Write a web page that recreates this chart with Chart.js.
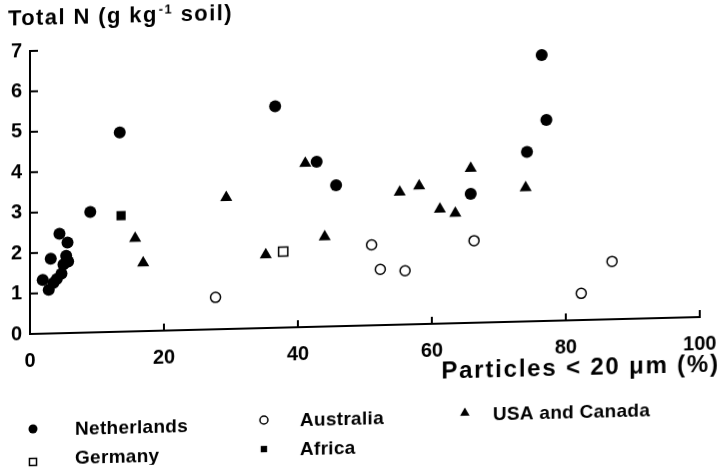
<!DOCTYPE html>
<html><head><meta charset="utf-8">
<script src="https://cdn.jsdelivr.net/npm/chart.js@4.4.1/dist/chart.umd.min.js"></script>
<style>
html,body{margin:0;padding:0;background:#fff;overflow:hidden}
#wrap{width:721px;height:468px;}
canvas{display:block;transform:skewY(-1.45deg);transform-origin:30px 0;}
</style></head><body>
<div id="wrap"><canvas id="c" width="721" height="468"></canvas></div>
<script>
// ---- data ----
const netherlandsX=[4.4,5.6,3.1,5.4,5.7,5.0,4.7,4.0,3.5,1.9,2.8,9.0,13.4,36.6,42.8,45.7,65.8,74.2,76.4,77.1];
const netherlandsY=[2.46,2.24,1.85,1.91,1.77,1.70,1.47,1.34,1.25,1.33,1.08,2.98,4.93,5.48,4.08,3.49,3.19,4.19,6.58,4.97];
const usaX=[41.1,29.3,15.7,16.9,35.2,44.0,55.2,58.1,65.8,61.2,63.5,74.0];
const usaY=[4.05,3.25,2.30,1.69,1.81,2.22,3.28,3.42,3.82,2.83,2.72,3.31];
const australiaX=[27.7,51.0,52.3,56.0,66.3,86.9,82.3];
const australiaY=[0.79,1.99,1.38,1.33,2.03,1.43,0.66];
const germanyX=[37.8];
const germanyY=[1.88];
const africaX=[13.6];
const africaY=[2.87];
const xTicks=[0,20,40,60,80,100];
const yTicks=[0,1,2,3,4,5,6,7];
const seriesNames=['Netherlands','Germany','Australia','Africa','USA and Canada'];
const yTitle=['Total N (g kg','-1',' soil)'];
const xTitle='Particles < 20 \u03bcm (%)';

const FONT='"Liberation Sans", Arial, sans-serif';
const pts=(xs,ys)=>xs.map((x,i)=>({x:x,y:ys[i]}));

const inwardTicks={id:'inwardTicks',afterDatasetsDraw(chart){
  const {ctx,scales:{x,y},chartArea:a}=chart;
  ctx.save();ctx.strokeStyle='#000';ctx.lineWidth=2;
  yTicks.forEach(v=>{if(v===0)return;const py=y.getPixelForValue(v);
    ctx.beginPath();ctx.moveTo(a.left,py);ctx.lineTo(a.left+8,py);ctx.stroke();});
  xTicks.forEach(v=>{if(v===0)return;const px=x.getPixelForValue(v);
    ctx.beginPath();ctx.moveTo(px,a.bottom);ctx.lineTo(px,a.bottom-7);ctx.stroke();});
  ctx.restore();}};

const texts={id:'texts',afterDraw(chart){
  const ctx=chart.ctx;const a=chart.chartArea;
  ctx.save();ctx.fillStyle='#000';ctx.textBaseline='middle';
  // y title with superscript
  let fx=8;const ty=19;
  ctx.letterSpacing='1.4px';
  ctx.font='bold 22px '+FONT;ctx.textAlign='left';
  ctx.fillText(yTitle[0],fx,ty);fx+=ctx.measureText(yTitle[0]).width+1;
  ctx.font='bold 13px '+FONT;ctx.fillText(yTitle[1],fx,ty-6);fx+=ctx.measureText(yTitle[1]).width;
  ctx.font='bold 22px '+FONT;ctx.fillText(yTitle[2],fx,ty);
  // x title
  ctx.letterSpacing='1.8px';
  ctx.font='bold 24px '+FONT;ctx.textAlign='right';
  ctx.fillText(xTitle,720,a.bottom+48);
  // legend
  ctx.letterSpacing='0.3px';
  const ds=chart.data.datasets;
  const pos={'Netherlands':[33,75,429,431],'Germany':[33,75,462,460],'Australia':[264,300,426,428],'Africa':[264,300,455,457],'USA and Canada':[465,493,424,427]};
  ctx.font='bold 19px '+FONT;ctx.textAlign='left';
  ds.forEach(d=>{const p=pos[d.label];
    ctx.fillStyle=d.backgroundColor;ctx.strokeStyle=d.borderColor;ctx.lineWidth=d.borderWidth||0;
    Chart.helpers.drawPoint(ctx,{pointStyle:d.pointStyle,radius:d.legendRadius,rotation:0,borderWidth:d.borderWidth||0},p[0],p[2]);
    ctx.fillStyle='#000';ctx.fillText(d.label,p[1],p[3]);});
  ctx.restore();}};

new Chart(document.getElementById('c'),{
  type:'scatter',
  data:{datasets:[
    {label:seriesNames[0],data:pts(netherlandsX,netherlandsY),pointStyle:'circle',pointRadius:6,backgroundColor:'#000',borderColor:'#000',borderWidth:0,legendRadius:4.5},
    {label:seriesNames[1],data:pts(germanyX,germanyY),pointStyle:'rect',pointRadius:6.5,backgroundColor:'#fff',borderColor:'#000',borderWidth:1.5,legendRadius:5},
    {label:seriesNames[2],data:pts(australiaX,australiaY),pointStyle:'circle',pointRadius:5,backgroundColor:'rgba(0,0,0,0)',borderColor:'#000',borderWidth:1.5,legendRadius:4},
    {label:seriesNames[3],data:pts(africaX,africaY),pointStyle:'rect',pointRadius:6.5,backgroundColor:'#000',borderColor:'#000',borderWidth:0,legendRadius:4.5},
    {label:seriesNames[4],data:pts(usaX,usaY),pointStyle:'triangle',pointRadius:7,backgroundColor:'#000',borderColor:'#000',borderWidth:0,legendRadius:5.5}
  ]},
  options:{
    responsive:false,animation:false,devicePixelRatio:1,
    layout:{padding:{top:51,right:21,left:0,bottom:0}},
    plugins:{legend:{display:false},tooltip:{enabled:false}},
    elements:{point:{hoverRadius:6}},
    datasets:{scatter:{clip:false}},
    scales:{
      x:{type:'linear',min:0,max:100,
        afterBuildTicks(s){s.ticks=xTicks.map(v=>({value:v}));},
        afterFit(s){s.height=134;s.paddingLeft=0;s.paddingRight=0;},
        ticks:{color:'#000',font:{family:FONT,size:20,weight:'bold'},padding:7,maxRotation:0},
        grid:{display:false},border:{display:true,color:'#000',width:2}},
      y:{type:'linear',min:0,max:7,
        afterBuildTicks(s){s.ticks=yTicks.map(v=>({value:v}));},
        afterFit(s){s.width=30;s.paddingTop=0;s.paddingBottom=0;},
        ticks:{color:'#000',font:{family:FONT,size:20,weight:'bold'},padding:0},
        grid:{display:false},border:{display:true,color:'#000',width:2}}
    }
  },
  plugins:[inwardTicks,texts]
});
</script></body></html>
